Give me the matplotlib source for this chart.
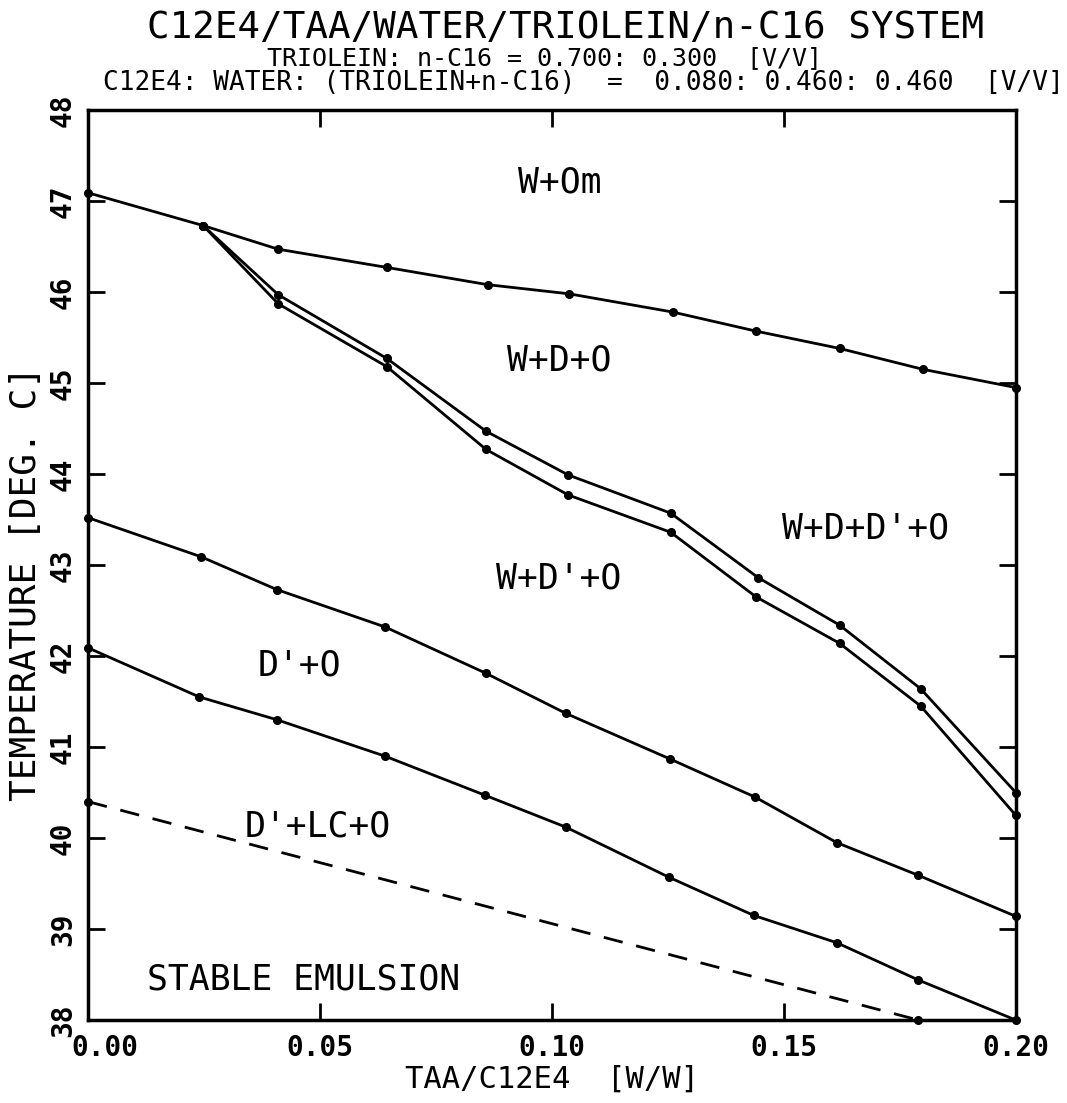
import matplotlib
matplotlib.use("Agg")
import matplotlib.pyplot as plt
import matplotlib.transforms as mtransforms

FONT = "DejaVu Sans Mono"

# Upper boundary: W+Om / W+D+O
x_top = [0.0, 0.0248, 0.041, 0.0644, 0.0862, 0.1037, 0.126, 0.144, 0.162, 0.180, 0.200]
y_top = [47.09, 46.73, 46.47, 46.27, 46.08, 45.98, 45.78, 45.57, 45.38, 45.15, 44.95]

# W+D+O / W+D+D'+O (upper of the pair)
x_d1 = [0.0248, 0.041, 0.0644, 0.0858, 0.1035, 0.1256, 0.1445, 0.162, 0.1795, 0.200]
y_d1 = [46.73, 45.97, 45.27, 44.47, 43.99, 43.57, 42.86, 42.34, 41.64, 40.50]

# W+D+D'+O / W+D'+O (lower of the pair)
x_d2 = [0.0248, 0.041, 0.0644, 0.0858, 0.1035, 0.1256, 0.1440, 0.162, 0.1795, 0.200]
y_d2 = [46.73, 45.87, 45.18, 44.27, 43.77, 43.36, 42.65, 42.14, 41.45, 40.25]

# W+D'+O / D'+O
x_b3 = [0.0, 0.0244, 0.0407, 0.064, 0.0858, 0.103, 0.1254, 0.1438, 0.1614, 0.179, 0.200]
y_b3 = [43.52, 43.09, 42.73, 42.32, 41.81, 41.37, 40.87, 40.45, 39.95, 39.59, 39.14]

# D'+O / D'+LC+O
x_b4 = [0.0, 0.024, 0.0407, 0.064, 0.0856, 0.103, 0.1252, 0.1435, 0.1614, 0.179, 0.200]
y_b4 = [42.09, 41.55, 41.30, 40.90, 40.47, 40.12, 39.57, 39.15, 38.85, 38.44, 38.00]

# Dashed boundary: D'+LC+O / stable emulsion
x_dash = [0.0, 0.179]
y_dash = [40.40, 38.00]

region_labels = ["W+Om", "W+D+O", "W+D+D'+O", "W+D'+O", "D'+O", "D'+LC+O", "STABLE EMULSION"]
label_x = [0.1017, 0.1015, 0.1675, 0.1015, 0.0455, 0.0495, 0.0465]
label_y = [47.20, 45.25, 43.40, 42.85, 41.90, 40.13, 38.45]

xticks = [0.00, 0.05, 0.10, 0.15, 0.20]
xtick_labels = ["0.00", "0.05", "0.10", "0.15", "0.20"]
yticks = [38, 39, 40, 41, 42, 43, 44, 45, 46, 47, 48]

fig = plt.figure(figsize=(10.67, 11.03), dpi=100)
ax = fig.add_axes([0.0825, 0.0752, 0.8695, 0.8251])

lw = 2.0
for xs, ys in [(x_top, y_top), (x_d1, y_d1), (x_d2, y_d2), (x_b3, y_b3), (x_b4, y_b4)]:
    ax.plot(xs, ys, color="black", lw=lw, marker="o", ms=5.5, clip_on=False, zorder=3)
ax.plot(x_dash, y_dash, color="black", lw=lw, ls=(0, (7, 5)), clip_on=False)
ax.plot(x_dash, y_dash, ls="none", marker="o", ms=5.5, color="black", clip_on=False)

for t, lx, ly in zip(region_labels, label_x, label_y):
    ax.text(lx, ly, t, ha="center", va="center", fontsize=25, family=FONT)

ax.set_xlim(0, 0.2)
ax.set_ylim(38, 48)
ax.set_xticks(xticks)
ax.set_xticklabels(xtick_labels, fontsize=20, family=FONT, fontweight="bold")
ax.set_yticks(yticks)
ax.set_yticklabels([str(v) for v in yticks], fontsize=20, family=FONT, fontweight="bold",
                   rotation=90, va="center")
ax.tick_params(direction="in", length=12, width=2.0, top=True, right=True)
ax.tick_params(axis="x", pad=10)
ax.tick_params(axis="y", pad=8)
for s in ax.spines.values():
    s.set_linewidth(2.5)

# first x tick label sits right of the corner in the reference
first = ax.get_xticklabels()[0]
first.set_transform(first.get_transform() + mtransforms.ScaledTranslation(0.17, 0, fig.dpi_scale_trans))

ax.set_xlabel("TAA/C12E4  [W/W]", fontsize=22, family=FONT, labelpad=2)
ax.set_ylabel("TEMPERATURE [DEG. C]", fontsize=26, family=FONT)
ax.yaxis.label.set_va("center")
ax.yaxis.set_label_coords(-0.067, 0.48)

fig.text(0.53, 0.9745, "C12E4/TAA/WATER/TRIOLEIN/n-C16 SYSTEM", ha="center", va="center",
         fontsize=27, family=FONT)
fig.text(0.51, 0.9475, "TRIOLEIN: n-C16 = 0.700: 0.300  [V/V]", ha="center", va="center",
         fontsize=18, family=FONT)
fig.text(0.547, 0.925, "C12E4: WATER: (TRIOLEIN+n-C16)  =  0.080: 0.460: 0.460  [V/V]",
         ha="center", va="center", fontsize=18.8, family=FONT)

fig.savefig("out.png", dpi=100)
